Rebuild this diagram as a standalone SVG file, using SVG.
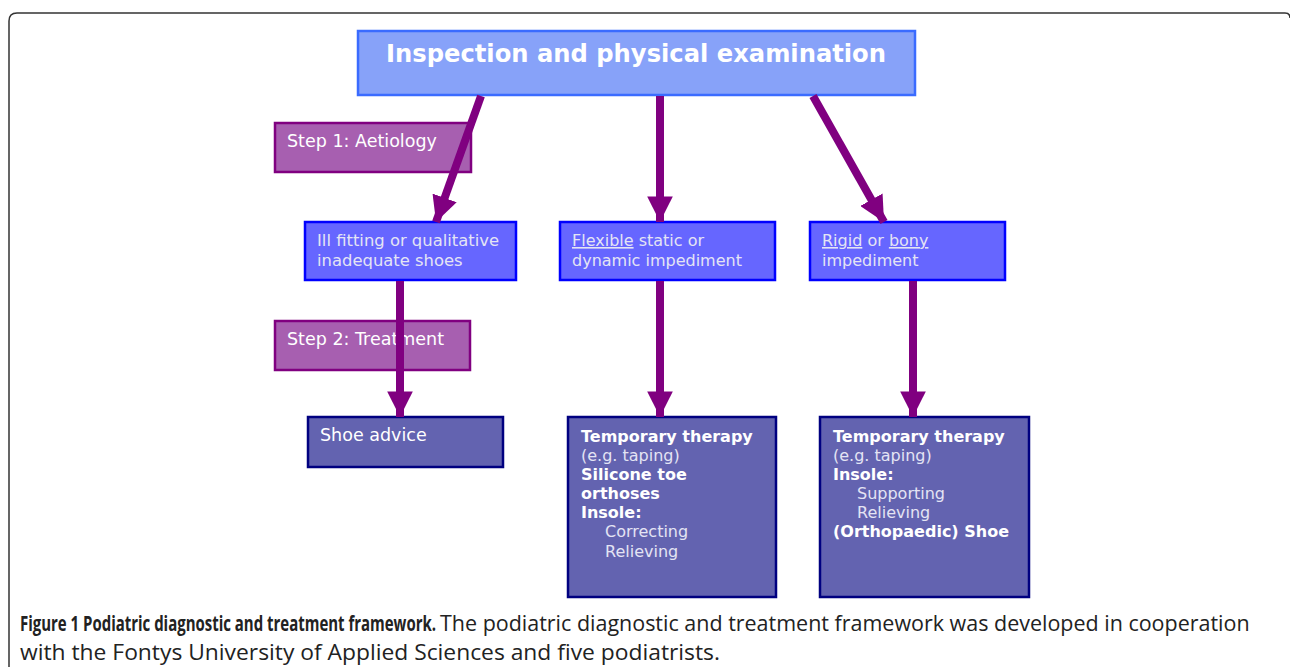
<svg xmlns="http://www.w3.org/2000/svg" width="1290" height="667" viewBox="0 0 1290 667">
<defs>
<style>
.t{font-family:"DejaVu Sans",Verdana,sans-serif;fill:#fff}
.b{font-weight:bold}
.lt{fill:#e4e4f4}
.step{fill:#a75fb0;stroke:#800080;stroke-width:2.5}
.mid{fill:#6666ff;stroke:#0000ff;stroke-width:2.5}
.bot{fill:#6363b0;stroke:#000080;stroke-width:2.5}
.con{stroke:#800080;stroke-width:8;fill:none}
.cap{font-family:"Open Sans",sans-serif;fill:#222;font-size:21px}
</style>
<marker id="ah" viewBox="0 0 10 10" refX="10" refY="5" markerWidth="3.2" markerHeight="3.2" markerUnits="strokeWidth" orient="auto">
<path d="M0,0 L10,5 L0,10 Z" fill="#800080"/>
</marker>
</defs>
<rect width="1290" height="667" fill="#fff"/>
<path d="M9,680 V21 Q9,13 17,13 H1285 Q1290,13 1290,18" fill="none" stroke="#333" stroke-width="1.5"/>

<g id="top">
<rect x="358" y="31" width="557" height="64" fill="#87a2f9" stroke="#3a6bff" stroke-width="2.5"/>
<text class="t b" x="386" y="62" font-size="24" textLength="500" lengthAdjust="spacingAndGlyphs">Inspection and physical examination</text>
</g>

<g id="step1">
<rect class="step" x="275" y="123" width="196" height="49"/>
<text class="t" x="287" y="147" font-size="17.5">Step 1: Aetiology</text>
</g>

<g id="step2">
<rect class="step" x="275" y="321" width="195" height="49"/>
<text class="t" x="287" y="345" font-size="17.5">Step 2: Treatment</text>
</g>

<g id="illfitting">
<rect class="mid" x="305" y="222" width="211" height="58"/>
<text class="t lt" x="317" y="246" font-size="16.4">Ill fitting or qualitative</text>
<text class="t lt" x="317" y="266" font-size="16.4">inadequate shoes</text>
</g>

<g id="flexible">
<rect class="mid" x="560" y="222" width="215" height="58"/>
<text class="t lt" x="572" y="246" font-size="16"><tspan text-decoration="underline">Flexible</tspan> static or</text>
<text class="t lt" x="572" y="266" font-size="16">dynamic impediment</text>
</g>

<g id="rigid">
<rect class="mid" x="810" y="222" width="195" height="58"/>
<text class="t lt" x="822" y="246" font-size="16"><tspan text-decoration="underline">Rigid</tspan> or <tspan text-decoration="underline">bony</tspan></text>
<text class="t lt" x="822" y="266" font-size="16">impediment</text>
</g>

<g id="shoeadvice">
<rect class="bot" x="308" y="417" width="195" height="50"/>
<text class="t" x="320" y="441" font-size="17.5">Shoe advice</text>
</g>

<g id="therapy1">
<rect class="bot" x="568" y="417" width="208" height="180"/>
<text class="t" x="581" y="442" font-size="16" font-weight="600">Temporary therapy</text>
<text class="t lt" x="581" y="461" font-size="16">(e.g. taping)</text>
<text class="t b" x="581" y="480" font-size="16">Silicone toe</text>
<text class="t b" x="581" y="499" font-size="16">orthoses</text>
<text class="t b" x="581" y="518" font-size="16">Insole:</text>
<text class="t lt" x="605" y="537" font-size="16">Correcting</text>
<text class="t lt" x="605" y="557" font-size="16">Relieving</text>
</g>

<g id="therapy2">
<rect class="bot" x="820" y="417" width="209" height="180"/>
<text class="t" x="833" y="442" font-size="16" font-weight="600">Temporary therapy</text>
<text class="t lt" x="833" y="461" font-size="16">(e.g. taping)</text>
<text class="t b" x="833" y="480" font-size="16">Insole:</text>
<text class="t lt" x="857" y="499" font-size="16">Supporting</text>
<text class="t lt" x="857" y="518" font-size="16">Relieving</text>
<text class="t b" x="833" y="537" font-size="16">(Orthopaedic) Shoe</text>
</g>

<g id="connectors">
<line class="con" x1="481" y1="96" x2="436" y2="222" marker-end="url(#ah)"/>
<line class="con" x1="660" y1="96" x2="660" y2="222" marker-end="url(#ah)"/>
<line class="con" x1="813" y1="96" x2="884" y2="222" marker-end="url(#ah)"/>
<line class="con" x1="400" y1="281" x2="400" y2="417" marker-end="url(#ah)"/>
<line class="con" x1="660" y1="281" x2="660" y2="417" marker-end="url(#ah)"/>
<line class="con" x1="913" y1="281" x2="913" y2="417" marker-end="url(#ah)"/>
</g>

<g id="caption">
<text class="cap" transform="translate(20,631) scale(0.713,1)" font-weight="bold">Figure 1 Podiatric diagnostic and treatment framework.</text>
<text class="cap" transform="translate(440,631) scale(1.023,1)">The podiatric diagnostic and treatment framework was developed in cooperation</text>
<text class="cap" transform="translate(20,660) scale(1.087,1)">with the Fontys University of Applied Sciences and five podiatrists.</text>
</g>
</svg>
